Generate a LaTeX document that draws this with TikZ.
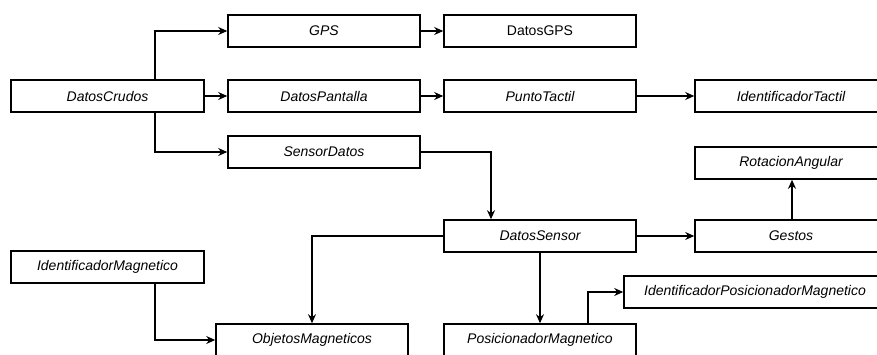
\documentclass[tikz,border=0pt]{standalone}
\usepackage{fontspec}
\setmainfont{Liberation Sans}
\usetikzlibrary{arrows.meta}
\tikzset{
  blk/.style={draw, line width=1.6pt, minimum width=192pt, minimum height=32pt, inner sep=0pt, font=\fontsize{14}{16}\selectfont\itshape},
  ar/.style={line width=1.6pt, -{Stealth[length=9pt,width=8pt]}}
}

\begin{document}
\begin{tikzpicture}[x=1pt,y=-1pt]
        \fill[white] (0,0) rectangle (877,354);
        \clip (0,0) rectangle (877,354);
        % upper part
        \node[blk, minimum width=193pt] (crudos) at (107.5,96) {DatosCrudos};
        \node[blk] (gps) at (324,31) {GPS};
        \node[blk, font=\fontsize{14}{16}\selectfont] (datosgps) at (540,31) {DatosGPS};
        \node[blk] (pantalla) at (324,96) {DatosPantalla};
        \node[blk] (punto) at (540,96) {PuntoTactil};
        \node[blk] (idtactil) at (791,96) {IdentificadorTactil};
        \node[blk] (sensordatos) at (324,152) {SensorDatos};
        % lower part
        \node[blk] (rotacion) at (791,163) {RotacionAngular};
        \node[blk] (datossensor) at (540,236) {DatosSensor};
        \node[blk] (gestos) at (791,236) {Gestos};
        \node[blk, minimum width=193pt] (idmag) at (107.5,267) {IdentificadorMagnetico};
        \node[blk] (objetos) at (312,340) {ObjetosMagneticos};
        \node[blk] (posicionador) at (540,340) {PosicionadorMagnetico};
        \node[blk, minimum width=262pt] (idposmag) at (755,292) {IdentificadorPosicionadorMagnetico};

        \draw[ar] ([xshift=47.5pt]crudos.north) |- (gps.west);
        \draw[ar] (crudos) -- (pantalla);
        \draw[ar] ([xshift=47.5pt]crudos.south) |- (sensordatos.west);
        \draw[ar] (gps) -- (datosgps);
        \draw[ar] (pantalla) -- (punto);
        \draw[ar] (punto) -- (idtactil);
        \draw[ar] (sensordatos.east) -| ([xshift=-49pt]datossensor.north);
        \draw[ar] (datossensor.west) -| (objetos.north);
        \draw[ar] ([xshift=47.5pt]idmag.south) |- (objetos.west);
        \draw[ar] (datossensor) -- (gestos);
        \draw[ar] ([xshift=1pt]gestos.north) -- ([xshift=1pt]rotacion.south);
        \draw[ar] (datossensor) -- (posicionador);
        \draw[ar] ([xshift=48pt]posicionador.north) |- (idposmag.west);
\end{tikzpicture}
\end{document}
